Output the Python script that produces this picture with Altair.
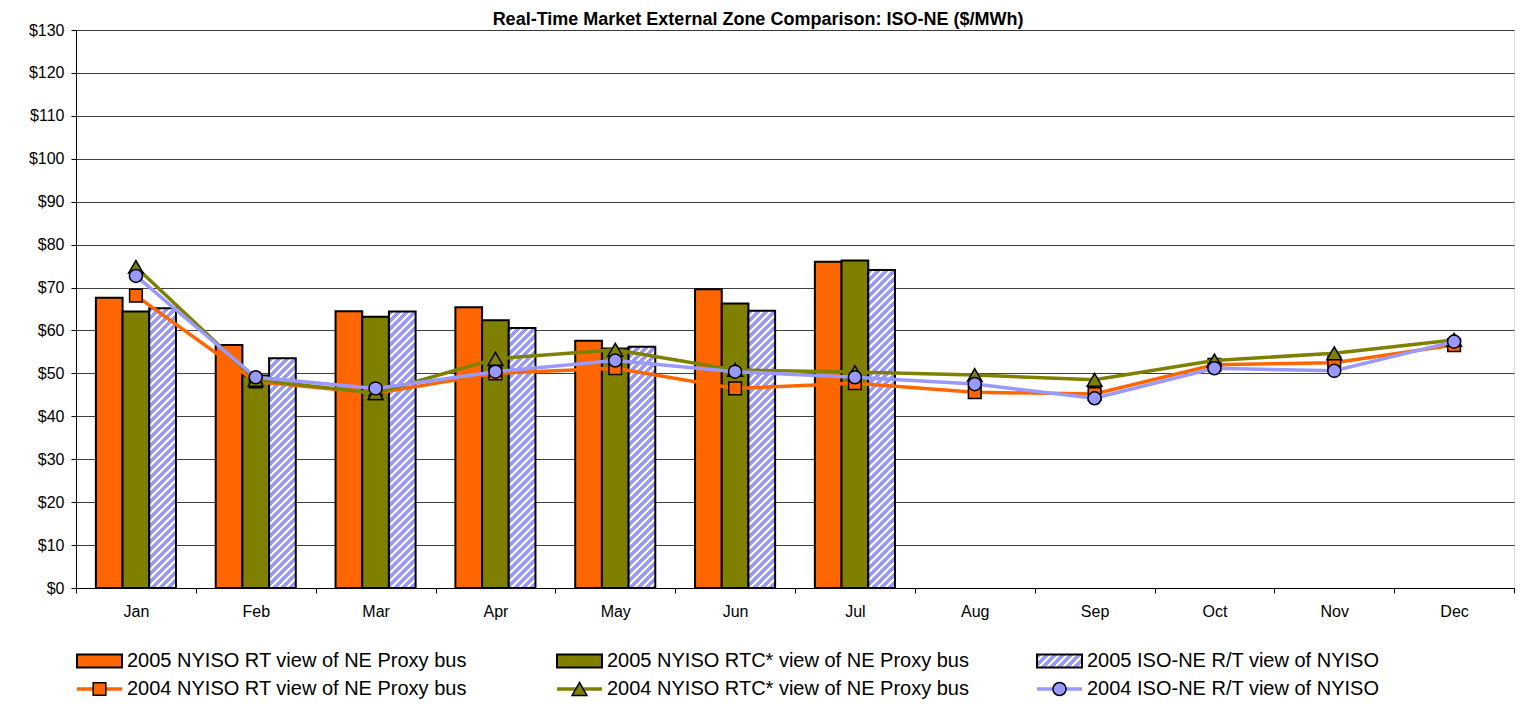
import altair as alt
import pandas as pd

# ---------------- data ----------------
months = ["Jan", "Feb", "Mar", "Apr", "May", "Jun", "Jul", "Aug", "Sep", "Oct", "Nov", "Dec"]
months05 = months[:7]

rt05 = [67.6, 56.6, 64.5, 65.4, 57.6, 69.6, 76.0]
rtc05 = [64.4, 49.5, 63.2, 62.4, 55.8, 66.3, 76.3]
isone05 = [65.2, 53.5, 64.4, 60.6, 56.2, 64.6, 74.1]

rt04 = [68.1, 48.1, 45.4, 50.0, 51.2, 46.5, 47.7, 45.6, 45.2, 52.0, 52.5, 56.6]
rtc04 = [74.8, 48.5, 45.4, 53.4, 55.5, 50.8, 50.3, 49.6, 48.5, 53.0, 54.7, 57.8]
isone04 = [72.7, 49.1, 46.5, 50.4, 53.0, 50.4, 49.1, 47.5, 44.2, 51.2, 50.6, 57.4]

s_rt05 = "2005 NYISO RT view of NE Proxy bus"
s_rtc05 = "2005 NYISO RTC* view of NE Proxy bus"
s_iso05 = "2005 ISO-NE R/T view of NYISO"
s_rt04 = "2004 NYISO RT view of NE Proxy bus"
s_rtc04 = "2004 NYISO RTC* view of NE Proxy bus"
s_iso04 = "2004 ISO-NE R/T view of NYISO"
bar_series = [s_rt05, s_rtc05, s_iso05]

title_text = "Real-Time Market External Zone Comparison: ISO-NE ($/MWh)"

# ---------------- style ----------------
ORANGE = "#FF6600"
OLIVE = "#808000"
LAV = "#9999FF"
FONT = "Liberation Sans"
PLOT_W, PLOT_H = 1438, 558
Y_MAX = 130
OFF_PAD = 0.745
BAR_W = (PLOT_W / 12) / (3 + 2 * OFF_PAD)


def hatch(w, h, base=LAV, period=8.0, frac=0.62):
    a = w / h
    c = (a + 1) / (a * a + 1)
    L = w + h
    stops = []
    k = 0
    while k * period < L:
        s = k * period / L
        m = min((k * period + frac * period) / L, 1.0)
        e = min((k + 1) * period / L, 1.0)
        stops += [(s, base), (m, base), (m, "#ffffff"), (e, "#ffffff")]
        k += 1
    return alt.LinearGradient(
        gradient="linear",
        stops=[alt.GradientStop(offset=o, color=col) for o, col in stops],
        x1=0, y1=0, x2=c * a, y2=c,
    )


def xenc():
    return alt.X(
        "month:N", sort=months,
        scale=alt.Scale(domain=months, paddingInner=0, paddingOuter=0),
        axis=alt.Axis(title=None, tickBand="extent", grid=False, labelAngle=0,
                      labelFontSize=16, labelFont=FONT, labelColor="#000",
                      tickColor="#000", domainColor="#000", tickSize=5,
                      labelPadding=10),
    )


def yenc():
    return alt.Y(
        "value:Q",
        scale=alt.Scale(domain=[0, Y_MAX], nice=False, zero=True),
        axis=alt.Axis(title=None, values=list(range(0, Y_MAX + 1, 10)),
                      labelExpr="'$' + datum.value", grid=True,
                      gridColor="#000", gridWidth=1, gridOpacity=0.75,
                      domainColor="#000", tickColor="#000", tickSize=5,
                      labelFontSize=16, labelFont=FONT, labelColor="#000",
                      labelPadding=7),
    )


def offenc():
    return alt.XOffset("series:N", sort=bar_series,
                       scale=alt.Scale(domain=bar_series, paddingInner=0,
                                       paddingOuter=OFF_PAD))


# ---------------- bars ----------------
solid = pd.DataFrame(
    [{"month": m, "value": v, "series": s_rt05, "col": ORANGE} for m, v in zip(months05, rt05)]
    + [{"month": m, "value": v, "series": s_rtc05, "col": OLIVE} for m, v in zip(months05, rtc05)]
)
solid_bars = alt.Chart(solid).mark_bar(stroke="#000", strokeWidth=2).encode(
    x=xenc(), y=yenc(), xOffset=offenc(),
    color=alt.Color("col:N", scale=None),
)

layers = [solid_bars]
for m, v in zip(months05, isone05):
    d = pd.DataFrame([{"month": m, "value": v, "series": s_iso05}])
    h = v * PLOT_H / Y_MAX
    layers.append(
        alt.Chart(d).mark_bar(fill=hatch(BAR_W, h), stroke="#000", strokeWidth=2).encode(
            x=xenc(), y=yenc(), xOffset=offenc()
        )
    )

# ---------------- lines ----------------
for name, vals, colr, shape, size in [
    (s_rt04, rt04, ORANGE, "square", 160),
    (s_rtc04, rtc04, OLIVE, "triangle-up", 220),
    (s_iso04, isone04, LAV, "circle", 170),
]:
    d = pd.DataFrame({"month": months, "value": vals})
    layers.append(alt.Chart(d).mark_line(color=colr, strokeWidth=3.5).encode(x=xenc(), y=yenc()))
    layers.append(
        alt.Chart(d).mark_point(shape=shape, filled=True, color=colr, fill=colr, stroke="#000",
                                strokeWidth=1.5, size=size, opacity=1).encode(x=xenc(), y=yenc())
    )

main = alt.layer(*layers)

# ---------------- custom legend + title (pixel space) ----------------
COL_X = [1, 481, 961]
ROW1_Y, ROW2_Y = 631, 659
SYM_W, SYM_H = 45, 13

leg_rect = pd.DataFrame([
    {"x": COL_X[0], "x2": COL_X[0] + SYM_W, "y": ROW1_Y - SYM_H / 2, "y2": ROW1_Y + SYM_H / 2, "col": ORANGE},
    {"x": COL_X[1], "x2": COL_X[1] + SYM_W, "y": ROW1_Y - SYM_H / 2, "y2": ROW1_Y + SYM_H / 2, "col": OLIVE},
])
leg_hatch = pd.DataFrame([
    {"x": COL_X[2], "x2": COL_X[2] + SYM_W, "y": ROW1_Y - SYM_H / 2, "y2": ROW1_Y + SYM_H / 2},
])
leg_line = pd.DataFrame([
    {"x": COL_X[i], "x2": COL_X[i] + SYM_W, "y": ROW2_Y, "col": c} for i, c in enumerate([ORANGE, OLIVE, LAV])
])
leg_text = pd.DataFrame(
    [{"x": COL_X[i] + SYM_W + 5, "y": ROW1_Y, "t": t} for i, t in enumerate(bar_series)]
    + [{"x": COL_X[i] + SYM_W + 5, "y": ROW2_Y, "t": t} for i, t in enumerate([s_rt04, s_rtc04, s_iso04])]
)
title_df = pd.DataFrame([{"x": 682, "y": -5, "t": title_text}])

def px(f):
    return alt.X(f + ":Q", scale=None, axis=None)

def py(f):
    return alt.Y(f + ":Q", scale=None, axis=None)

leg_layers = [
    alt.Chart(leg_rect).mark_rect(stroke="#000", strokeWidth=2).encode(
        x=px("x"), x2="x2:Q", y=py("y"), y2="y2:Q", color=alt.Color("col:N", scale=None)),
    alt.Chart(leg_hatch).mark_rect(fill=hatch(SYM_W, SYM_H), stroke="#000", strokeWidth=2).encode(
        x=px("x"), x2="x2:Q", y=py("y"), y2="y2:Q"),
    alt.Chart(leg_line).mark_rule(strokeWidth=3.5).encode(
        x=px("x"), x2="x2:Q", y=py("y"), color=alt.Color("col:N", scale=None)),
]
for i, (colr, shape, size) in enumerate([(ORANGE, "square", 160), (OLIVE, "triangle-up", 220), (LAV, "circle", 170)]):
    d = pd.DataFrame([{"x": COL_X[i] + SYM_W / 2, "y": ROW2_Y}])
    leg_layers.append(
        alt.Chart(d).mark_point(shape=shape, filled=True, color=colr, fill=colr, stroke="#000",
                                strokeWidth=1.5, size=size, opacity=1).encode(x=px("x"), y=py("y"))
    )
leg_layers.append(
    alt.Chart(leg_text).mark_text(align="left", baseline="middle", fontSize=20, font=FONT, color="#000").encode(
        x=px("x"), y=py("y"), text="t:N")
)
leg_layers.append(
    alt.Chart(title_df).mark_text(align="center", baseline="alphabetic", fontSize=18, fontWeight="bold",
                                  font=FONT, color="#000").encode(x=px("x"), y=py("y"), text="t:N")
)
legend = alt.layer(*leg_layers)

chart = (
    alt.layer(main, legend)
    .resolve_scale(x="independent", y="independent", color="independent")
    .properties(
        width=PLOT_W, height=PLOT_H,
        autosize=alt.AutoSizeParams(type="none"),
        padding={"left": 68, "top": 22, "right": 2, "bottom": 120},
    )
    .configure_view(stroke="#000", strokeWidth=1)
    .configure(background="#ffffff")
)

chart.save("out.html", embed_options={"renderer": "svg", "actions": False})
